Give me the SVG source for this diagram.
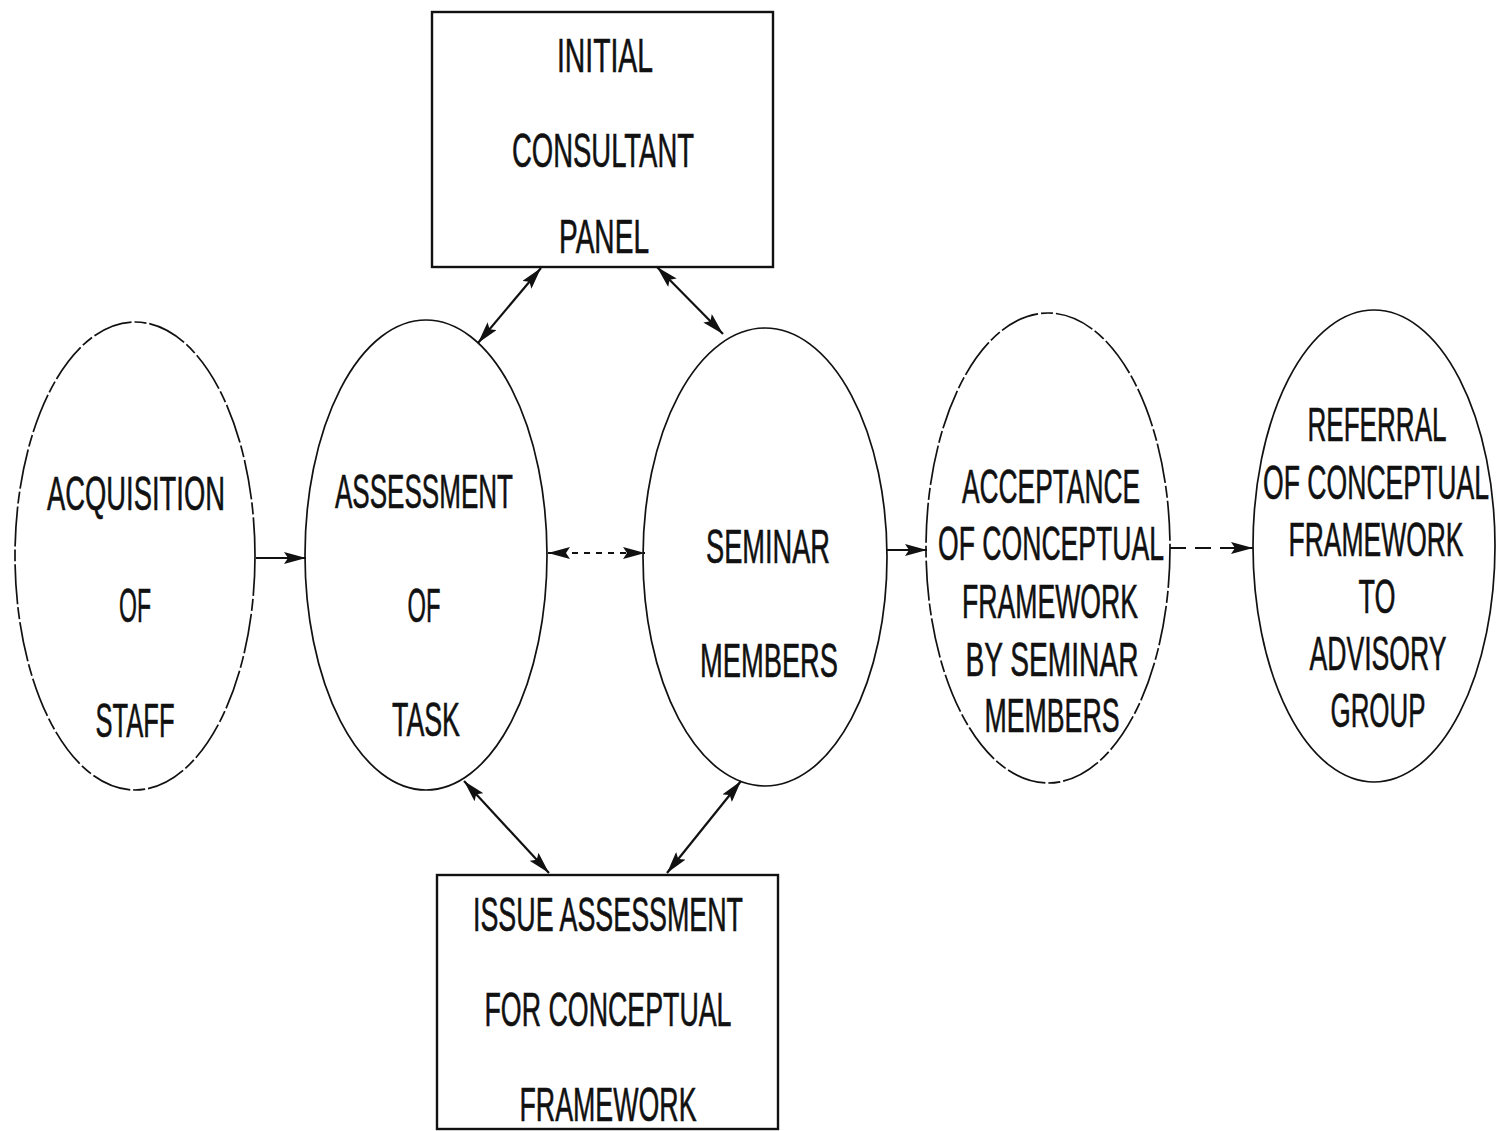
<svg xmlns="http://www.w3.org/2000/svg" width="1498" height="1131" viewBox="0 0 1498 1131">
<style>
.bg{fill:#fff}
.box{fill:none;stroke:#111;stroke-width:2.4}
.ell{fill:none;stroke:#111;stroke-width:1.7}
.faint{stroke-dasharray:40 3 12 3}
.t{font-family:"Liberation Sans",Arial,sans-serif;font-size:48px;fill:#111;stroke:#111;stroke-width:0.6;text-anchor:middle}
.c{stroke:#111;stroke-width:2.2;fill:none}
.dot{stroke-dasharray:6 6}
.dash{stroke-dasharray:16 9}
</style>
<defs>
<marker id="ah" viewBox="0 0 22 12" refX="22" refY="6" markerWidth="22" markerHeight="12" markerUnits="userSpaceOnUse" orient="auto-start-reverse">
<path d="M0,0 L22,6 L0,12 L4,6 Z" fill="#111"/>
</marker>
</defs>
<rect class="bg" x="0" y="0" width="1498" height="1131"/>

<g id="initial-consultant-panel">
<rect class="box" x="432" y="12" width="341" height="255"/>
<text class="t" x="605" y="72" textLength="96" lengthAdjust="spacingAndGlyphs">INITIAL</text>
<text class="t" x="603" y="167" textLength="182" lengthAdjust="spacingAndGlyphs">CONSULTANT</text>
<text class="t" x="604" y="253" textLength="90" lengthAdjust="spacingAndGlyphs">PANEL</text>
</g>

<g id="issue-assessment">
<rect class="box" x="437" y="875" width="341" height="254"/>
<text class="t" x="608" y="931" textLength="270" lengthAdjust="spacingAndGlyphs">ISSUE ASSESSMENT</text>
<text class="t" x="608" y="1026" textLength="247" lengthAdjust="spacingAndGlyphs">FOR CONCEPTUAL</text>
<text class="t" x="608" y="1121" textLength="177" lengthAdjust="spacingAndGlyphs">FRAMEWORK</text>
</g>

<g id="acquisition-of-staff">
<ellipse class="ell faint" cx="135" cy="556" rx="120" ry="234"/>
<text class="t" x="136" y="510" textLength="178" lengthAdjust="spacingAndGlyphs">ACQUISITION</text>
<text class="t" x="135" y="622" textLength="32" lengthAdjust="spacingAndGlyphs">OF</text>
<text class="t" x="135" y="737" textLength="79" lengthAdjust="spacingAndGlyphs">STAFF</text>
</g>

<g id="assessment-of-task">
<ellipse class="ell" cx="426" cy="555" rx="121" ry="235"/>
<text class="t" x="424" y="508" textLength="178" lengthAdjust="spacingAndGlyphs">ASSESSMENT</text>
<text class="t" x="424" y="622" textLength="33" lengthAdjust="spacingAndGlyphs">OF</text>
<text class="t" x="426" y="736" textLength="68" lengthAdjust="spacingAndGlyphs">TASK</text>
</g>

<g id="seminar-members">
<ellipse class="ell" cx="765" cy="557" rx="122" ry="229"/>
<text class="t" x="768" y="563" textLength="124" lengthAdjust="spacingAndGlyphs">SEMINAR</text>
<text class="t" x="769" y="677" textLength="138" lengthAdjust="spacingAndGlyphs">MEMBERS</text>
</g>

<g id="acceptance">
<ellipse class="ell faint" cx="1048" cy="548" rx="122" ry="235"/>
<text class="t" x="1051" y="503" textLength="178" lengthAdjust="spacingAndGlyphs">ACCEPTANCE</text>
<text class="t" x="1051" y="560" textLength="226" lengthAdjust="spacingAndGlyphs">OF CONCEPTUAL</text>
<text class="t" x="1050" y="618" textLength="176" lengthAdjust="spacingAndGlyphs">FRAMEWORK</text>
<text class="t" x="1052" y="676" textLength="173" lengthAdjust="spacingAndGlyphs">BY SEMINAR</text>
<text class="t" x="1052" y="732" textLength="135" lengthAdjust="spacingAndGlyphs">MEMBERS</text>
</g>

<g id="referral">
<ellipse class="ell" cx="1374" cy="546" rx="121" ry="236"/>
<text class="t" x="1377" y="441" textLength="139" lengthAdjust="spacingAndGlyphs">REFERRAL</text>
<text class="t" x="1376" y="499" textLength="226" lengthAdjust="spacingAndGlyphs">OF CONCEPTUAL</text>
<text class="t" x="1376" y="556" textLength="175" lengthAdjust="spacingAndGlyphs">FRAMEWORK</text>
<text class="t" x="1377" y="613" textLength="37" lengthAdjust="spacingAndGlyphs">TO</text>
<text class="t" x="1378" y="670" textLength="137" lengthAdjust="spacingAndGlyphs">ADVISORY</text>
<text class="t" x="1378" y="727" textLength="95" lengthAdjust="spacingAndGlyphs">GROUP</text>
</g>

<g id="connectors">
<line class="c" x1="256" y1="558" x2="306" y2="558" marker-end="url(#ah)"/>
<line class="c dot" x1="548" y1="553" x2="645" y2="553" marker-start="url(#ah)" marker-end="url(#ah)"/>
<line class="c" x1="887" y1="550" x2="927" y2="550" marker-end="url(#ah)"/>
<line class="c dash" x1="1170" y1="548" x2="1253" y2="548" marker-end="url(#ah)"/>
<line class="c" x1="541" y1="268" x2="478" y2="343" marker-start="url(#ah)" marker-end="url(#ah)"/>
<line class="c" x1="657" y1="267" x2="723" y2="334" marker-start="url(#ah)" marker-end="url(#ah)"/>
<line class="c" x1="464" y1="781" x2="549" y2="873" marker-start="url(#ah)" marker-end="url(#ah)"/>
<line class="c" x1="741" y1="781" x2="667" y2="873" marker-start="url(#ah)" marker-end="url(#ah)"/>
</g>
</svg>
